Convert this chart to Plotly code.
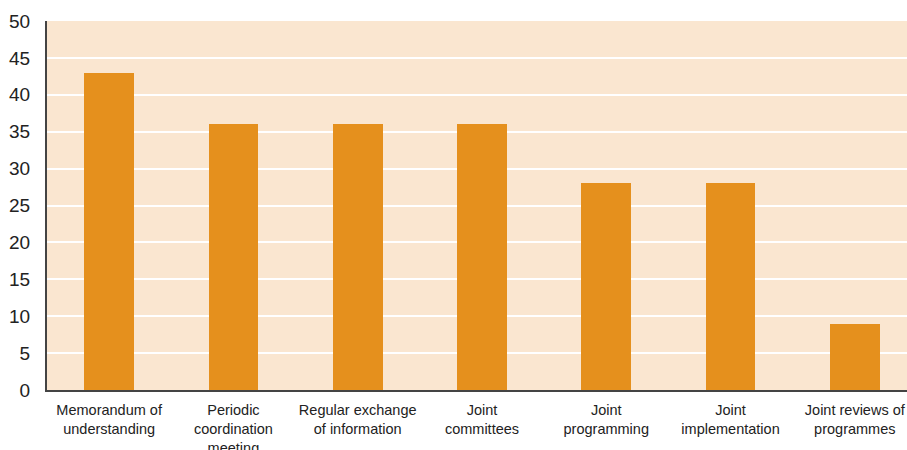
import plotly.graph_objects as go

categories = [
    "Memorandum of<br>understanding",
    "Periodic<br>coordination<br>meeting",
    "Regular exchange<br>of information",
    "Joint<br>committees",
    "Joint<br>programming",
    "Joint<br>implementation",
    "Joint reviews of<br>programmes",
]
values = [43, 36, 36, 36, 28, 28, 9]

BAR = "#E5901D"
BG = "#FAE6D0"
AXIS = "#444444"
FONT = "Liberation Sans, Arial, sans-serif"

fig = go.Figure(go.Bar(
    x=list(range(len(categories))), y=values,
    marker_color=BAR, marker_line_width=0,
    width=0.4,
))

fig.update_layout(
    width=907, height=450,
    paper_bgcolor="white",
    plot_bgcolor=BG,
    margin=dict(l=47, r=0, t=21, b=60, autoexpand=False),
    showlegend=False,
    font=dict(family=FONT, color="#222222"),
    bargap=0,
)
fig.update_xaxes(
    tickmode="array",
    tickvals=list(range(len(categories))),
    ticktext=categories,
    range=[-0.5, 6.42],
    showgrid=False, zeroline=False,
    showline=True, linecolor=AXIS, linewidth=2,
    ticks="", tickfont=dict(size=14.5, color="#222222"),
    tickangle=0, automargin=False, ticklabelstandoff=6,
)
fig.update_yaxes(
    range=[0, 50], dtick=5,
    showgrid=True, gridcolor="white", gridwidth=2,
    zeroline=False,
    showline=True, linecolor=AXIS, linewidth=2,
    ticks="", tickfont=dict(size=19, color="#222222"),
    ticklabelstandoff=11, automargin=False,
)

# page body has a default 8px margin; drop it so the figure fills the window
fig.write_html("out.html", config={"displayModeBar": False},
               post_script="document.body.style.margin='0';")
